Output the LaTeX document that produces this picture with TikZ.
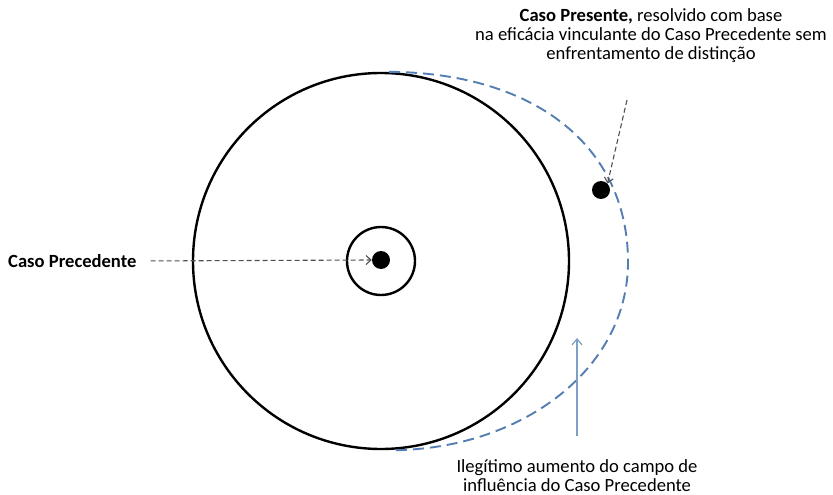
\documentclass[tikz,border=0pt]{standalone}
\usepackage{fontspec}
\setmainfont{Carlito}
\usetikzlibrary{arrows.meta,positioning}

\definecolor{curveblue}{RGB}{84,126,178}
\definecolor{arrowblue}{RGB}{125,160,198}
\definecolor{pointgray}{RGB}{80,80,80}

\begin{document}
\begin{tikzpicture}[
        x=1pt,
        y=-1pt,
        ring/.style={draw, circle, line width=2.4pt, inner sep=0pt},
        dot/.style={circle, fill=black, inner sep=0pt, minimum size=18pt},
        label/.style={font=\fontsize{18.6}{19}\selectfont, align=center, inner sep=0pt},
        pointer/.style={draw=pointgray, line width=1.1pt, dash pattern=on 5pt off 3pt, -{Straight Barb[length=5pt,width=9pt]}},
        reach/.style={draw=curveblue, line width=1.9pt, dash pattern=on 11pt off 6pt},
        growth/.style={draw=arrowblue, line width=1.2pt, -{Straight Barb[length=6pt,width=10pt]}}
    ]
        \useasboundingbox (0,0) rectangle (833,495);

        % circles
        \node[ring, minimum size=376pt] (outer) at (381,261) {};
        \node[ring, minimum size=68pt] (inner) at (381,261) {};
        \node[dot] (prec) at (381,260) {};
        \node[dot] (pres) at (601,190) {};

        % widened field
        \draw[reach] ([xshift=8pt]outer.north) .. controls (540,73) and (628,150) .. (628,262)
            .. controls (628,370) and (520,450) .. ([xshift=10pt]outer.south);

        % texts
        \node[label, font=\fontsize{18.6}{19}\selectfont\bfseries, anchor=west] (preclab) at (8,261) {Caso Precedente};
        \node[label] (preslab) at (651,36) {\textbf{Caso Presente,} resolvido com base\\ na eficácia vinculante do Caso Precedente sem\\ enfrentamento de distinção};
        \node[label] (growlab) at (577,476) {Ilegítimo aumento do campo de\\ influência do Caso Precedente};

        % pointers
        \coordinate (presstart) at (627,100);
        \coordinate (growstart) at (577,436);
        \coordinate (growend) at (577,338);
        \draw[pointer, shorten <=14pt] (preclab.east) -- (prec.west);
        \draw[pointer] (presstart) -- (pres.north east);
        \draw[growth] (growstart) -- (growend);
    \end{tikzpicture}
\end{document}
